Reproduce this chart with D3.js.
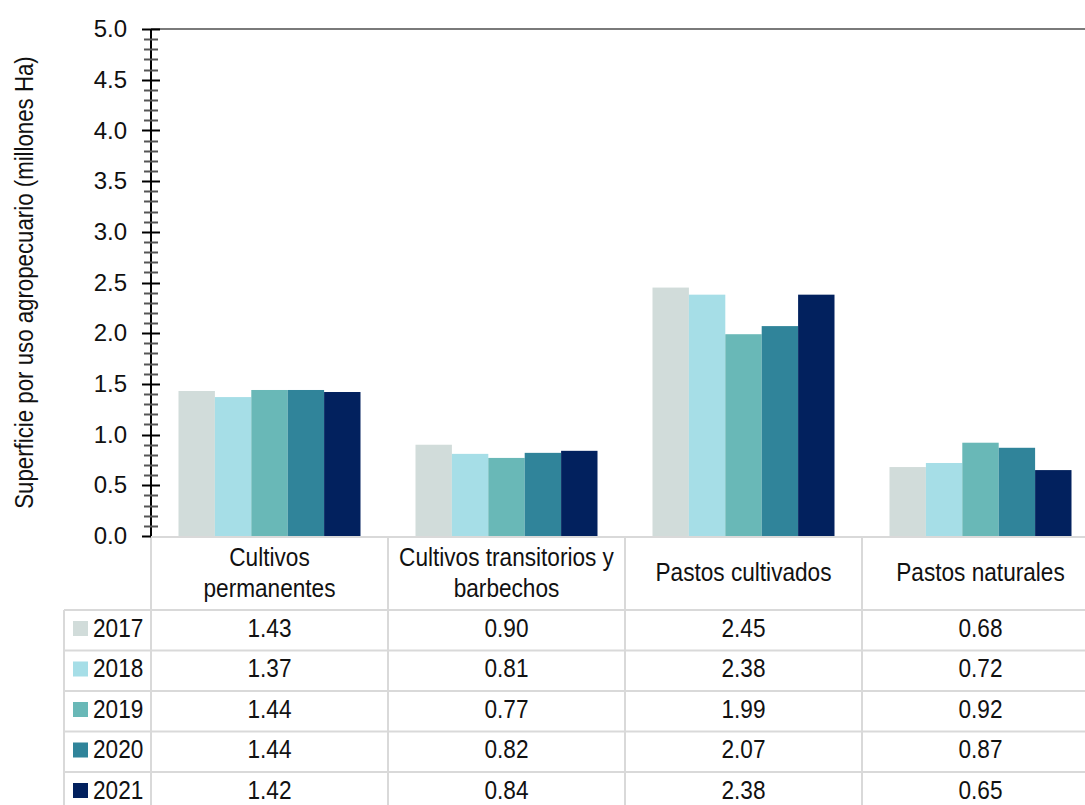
<!DOCTYPE html>
<html>
<head>
<meta charset="utf-8">
<script src="https://cdn.jsdelivr.net/npm/d3@7"></script>
<style>
  html, body { margin: 0; padding: 0; background: #fff; }
  svg { display: block; }
  text { font-family: "Liberation Sans", Arial, sans-serif; fill: #111; }
</style>
</head>
<body>
<svg id="chart" width="1085" height="805"></svg>
<script>
const categories = [["Cultivos", "permanentes"], ["Cultivos transitorios y", "barbechos"], ["Pastos cultivados"], ["Pastos naturales"]];
const years = ["2017", "2018", "2019", "2020", "2021"];
const colors = ["#d1dcda", "#a6dee7", "#69b8b7", "#30849a", "#02215e"];
const values2017 = [1.43, 0.90, 2.45, 0.68];
const values2018 = [1.37, 0.81, 2.38, 0.72];
const values2019 = [1.44, 0.77, 1.99, 0.92];
const values2020 = [1.44, 0.82, 2.07, 0.87];
const values2021 = [1.42, 0.84, 2.38, 0.65];
const series = [values2017, values2018, values2019, values2020, values2021];
const yTicks = [0, 0.5, 1, 1.5, 2, 2.5, 3, 3.5, 4, 4.5, 5];
const yTitle = "Superficie por uso agropecuario (millones Ha)";

const svg = d3.select("#chart");
const axisX = 151, yBase = 536, yTopPx = 29;
const colW = 237;
const SX = 0.87;
const x = d3.scaleBand().domain(d3.range(categories.length)).range([axisX, axisX + colW * categories.length]).padding(0);
const xi = d3.scaleBand().domain(years).range([27.5, colW - 27.5]).padding(0);
const y = d3.scaleLinear().domain([0, 5]).range([yBase, yTopPx]);

function label(px, py, str, anchor, size, sx) {
  return svg.append("text")
    .attr("transform", `translate(${px},${py}) scale(${sx},1)`)
    .attr("text-anchor", anchor).attr("font-size", size).text(str);
}

// top border of plot area
svg.append("line").attr("x1", axisX).attr("x2", 1100).attr("y1", yTopPx).attr("y2", yTopPx)
  .attr("stroke", "#7a7a7a").attr("stroke-width", 2);

// bars
years.forEach((yr, s) => {
  svg.append("g").selectAll("rect").data(series[s]).join("rect")
    .attr("x", (d, i) => x(i) + xi(yr))
    .attr("width", xi.bandwidth())
    .attr("y", d => y(d))
    .attr("height", d => yBase - y(d))
    .attr("fill", colors[s]);
});

// table grid
const grid = svg.append("g").attr("stroke", "#d9d9d9").attr("stroke-width", 2);
const tableLeft = 64, headerBottom = 610, rowH = 40.5;
const rightEdge = axisX + colW * categories.length;
grid.append("line").attr("x1", axisX).attr("x2", rightEdge).attr("y1", yBase + 1).attr("y2", yBase + 1);
for (let r = 0; r <= years.length; r++) {
  const yy = headerBottom + r * rowH;
  grid.append("line").attr("x1", tableLeft).attr("x2", rightEdge).attr("y1", yy).attr("y2", yy);
}
grid.append("line").attr("x1", tableLeft).attr("x2", tableLeft).attr("y1", headerBottom).attr("y2", 820);
for (let c = 0; c <= categories.length; c++) {
  const xx = axisX + c * colW;
  grid.append("line").attr("x1", xx).attr("x2", xx).attr("y1", yBase + 1).attr("y2", 820);
}

// y axis
const yAxis = d3.axisLeft(y).tickValues(yTicks).tickFormat(d3.format(".1f")).tickSize(0).tickPadding(24);
const ga = svg.append("g").attr("transform", `translate(${axisX},0)`).call(yAxis);
ga.select(".domain").remove();
ga.selectAll("text").attr("font-size", 24).attr("fill", "#111")
  .style("font-family", '"Liberation Sans", Arial, sans-serif');
svg.append("line").attr("x1", axisX).attr("x2", axisX).attr("y1", yTopPx).attr("y2", yBase)
  .attr("stroke", "#000").attr("stroke-width", 2);
const minorTicks = d3.range(0, 51).map(d => d / 10);
svg.append("g").selectAll("line").data(minorTicks).join("line")
  .attr("x1", d => (Math.round(d * 10)) % 5 === 0 ? axisX - 9 : axisX - 7)
  .attr("x2", d => d === 0 ? axisX : ((Math.round(d * 10)) % 5 === 0 ? axisX + 9 : axisX + 7))
  .attr("y1", d => Math.round(y(d)) + 0.5).attr("y2", d => Math.round(y(d)) + 0.5)
  .attr("stroke", d => (Math.round(d * 10)) % 5 === 0 ? "#000" : "#555").attr("stroke-width", 2);

// y title
svg.append("text").attr("transform", `translate(33,${(yBase + yTopPx) / 2}) rotate(-90) scale(0.89,1)`)
  .attr("text-anchor", "middle").attr("font-size", 25).text(yTitle);

// category headers
categories.forEach((lines, i) => {
  const cx = x(i) + colW / 2;
  if (lines.length === 2) {
    label(cx, 566, lines[0], "middle", 26, SX);
    label(cx, 597, lines[1], "middle", 26, SX);
  } else {
    label(cx, 581, lines[0], "middle", 26, SX);
  }
});

// rows
years.forEach((yr, r) => {
  const top = headerBottom + r * rowH;
  svg.append("rect").attr("x", 73).attr("y", top + 11).attr("width", 15).attr("height", 15).attr("fill", colors[r]);
  label(93, top + 26.5, yr, "start", 26, SX);
  series[r].forEach((v, i) => {
    label(x(i) + colW / 2, top + 26.5, d3.format(".2f")(v), "middle", 26, SX);
  });
});
</script>
</body>
</html>
